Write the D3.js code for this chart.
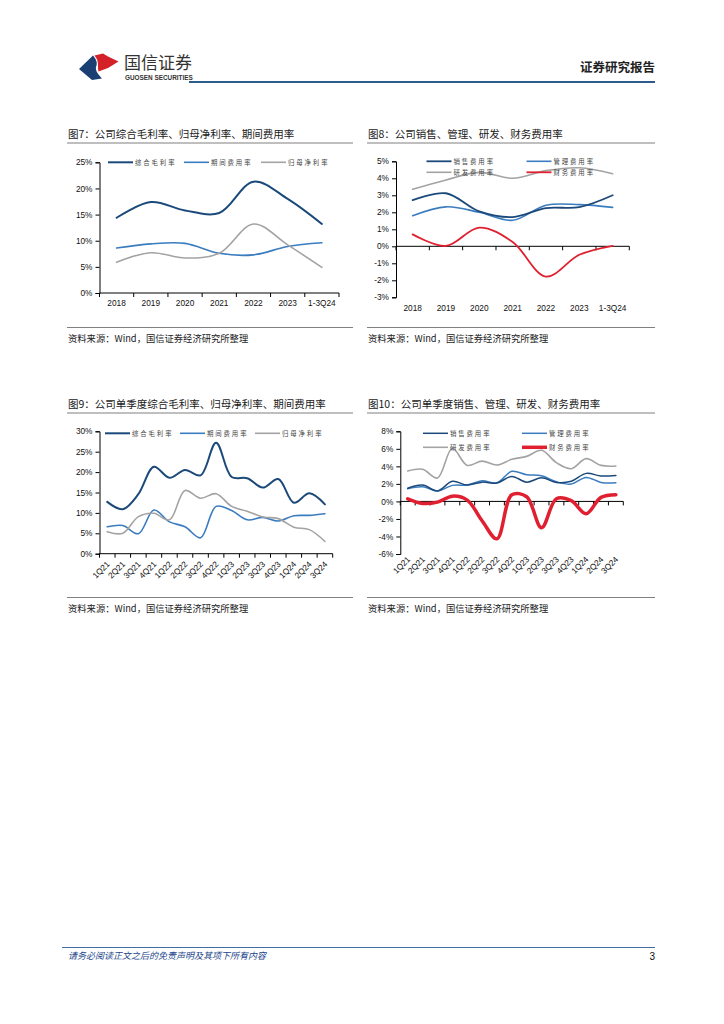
<!DOCTYPE html>
<html><head><meta charset="utf-8">
<script src="https://cdn.jsdelivr.net/npm/d3@7"></script>
<style>
body{margin:0;background:#fff;}
svg{display:block;font-family:"Liberation Sans",Arial,sans-serif;}
.cjk{font-family:"Noto Sans CJK SC","Noto Sans",sans-serif;}
</style></head>
<body>
<svg id="page" width="724" height="1024"></svg>
<script>
// ---------- DATA ----------
const years = ["2018","2019","2020","2021","2022","2023","1-3Q24"];
const grossMarginYear = [14.4, 17.4, 15.8, 15.3, 21.3, 18.0, 13.2];
const expenseRateYear = [8.6, 9.4, 9.5, 7.6, 7.3, 8.9, 9.6];
const netMarginYear   = [5.9, 7.7, 6.7, 7.6, 13.2, 9.2, 4.9];

const salesRateYear   = [2.72, 3.12, 2.05, 1.72, 2.25, 2.3, 3.0];
const adminRateYear   = [1.8, 2.32, 2.0, 1.53, 2.42, 2.45, 2.29];
const rdRateYear      = [3.35, 3.9, 4.35, 4.0, 4.45, 4.62, 4.27];
const finRateYear     = [0.7, 0.02, 1.1, 0.25, -1.78, -0.5, 0.03];

const quarters = ["1Q21","2Q21","3Q21","4Q21","1Q22","2Q22","3Q22","4Q22","1Q23","2Q23","3Q23","4Q23","1Q24","2Q24","3Q24"];
const grossMarginQ = [12.7, 10.9, 14.6, 21.3, 18.6, 20.5, 19.2, 27.2, 18.8, 18.5, 16.2, 18.3, 12.5, 14.8, 12.1];
const expenseRateQ = [6.6, 6.9, 4.9, 10.7, 7.8, 6.6, 3.9, 11.6, 10.6, 8.3, 8.9, 8.0, 9.3, 9.4, 9.8];
const netMarginQ   = [5.4, 5.0, 9.1, 9.9, 8.3, 15.5, 13.6, 14.7, 11.6, 10.4, 9.0, 8.6, 6.5, 5.9, 3.0];

const salesRateQ = [1.5, 1.87, 1.2, 2.3, 1.87, 2.2, 2.1, 2.85, 2.2, 2.7, 2.17, 2.3, 3.2, 2.9, 2.97];
const adminRateQ = [1.45, 1.67, 1.18, 1.83, 1.87, 2.36, 2.13, 3.43, 3.05, 2.93, 2.25, 1.98, 2.74, 2.17, 2.13];
const rdRateQ    = [3.47, 3.66, 2.67, 6.06, 4.11, 4.6, 4.15, 4.8, 5.14, 5.83, 4.42, 3.73, 4.88, 4.11, 4.04];
const finRateQ   = [0.3, -0.23, -0.08, 0.6, 0.15, -2.2, -4.27, 0.76, 0.53, -3.0, 0.3, 0.08, -1.4, 0.46, 0.76];

const ticks7 = [0,5,10,15,20,25];
const ticks8 = [-3,-2,-1,0,1,2,3,4,5];
const ticks9 = [0,5,10,15,20,25,30];
const ticks10 = [-6,-4,-2,0,2,4,6,8];

// ---------- STYLE ----------
const NAVY = "#1b4a7a", BLUE = "#3a7cc0", GRAY = "#a3a3a3", RED = "#e02030";
const svg = d3.select("#page");

// ---------- HEADER ----------
const logo = svg.append("g");
logo.append("path").attr("d","M79,69 L93,55.5 C96,59 98,63 96,67 C95,71 99,75 102,78.5 L92,80 Z").attr("fill","#1c3f73");
logo.append("path").attr("d","M94.5,55.5 L103,53.5 L108,56.5 L118.5,61.5 L108,68 L98.5,71.5 C97.5,68 98.5,64 97.5,61 C97,58.5 95.5,57 94.5,55.5 Z").attr("fill","#d42027");
svg.append("text").attr("class","cjk").attr("x",124).attr("y",69).attr("font-size",17).attr("fill","#333").text("国信证券");
svg.append("text").attr("x",125).attr("y",79.5).attr("font-size",6.4).attr("font-weight","bold").attr("fill","#333").text("GUOSEN SECURITIES");
svg.append("line").attr("x1",189).attr("x2",655).attr("y1",82).attr("y2",82).attr("stroke","#2d5b8c").attr("stroke-width",2);
svg.append("text").attr("class","cjk").attr("x",655).attr("y",72).attr("text-anchor","end").attr("font-size",12.5).attr("font-weight","bold").attr("fill","#222").text("证券研究报告");

// ---------- FOOTER ----------
svg.append("line").attr("x1",62).attr("x2",655).attr("y1",947.5).attr("y2",947.5).attr("stroke","#3e6ea3").attr("stroke-width",1);
svg.append("text").attr("class","cjk").attr("x",68).attr("y",959).attr("font-size",9).attr("font-style","italic").attr("fill","#24468a").attr("transform","skewX(0)").text("请务必阅读正文之后的免责声明及其项下所有内容");
svg.append("text").attr("x",655).attr("y",960).attr("text-anchor","end").attr("font-size",10).attr("fill","#111").text("3");

// ---------- CHART FUNCTION ----------
function drawChart(cfg){
  const g = svg.append("g");
  // title & frame
  g.append("text").attr("class","cjk").attr("x",cfg.fx+1).attr("y",cfg.titleY).attr("font-size",10.5).attr("fill","#1a1a1a").text(cfg.title);
  g.append("line").attr("x1",cfg.fx).attr("x2",cfg.fx2).attr("y1",cfg.titleY+5.5).attr("y2",cfg.titleY+5.5).attr("stroke","#808080").attr("stroke-width",1.2);
  g.append("line").attr("x1",cfg.fx).attr("x2",cfg.fx2).attr("y1",cfg.srcLineY).attr("y2",cfg.srcLineY).attr("stroke","#808080").attr("stroke-width",1.2);
  g.append("text").attr("class","cjk").attr("x",cfg.fx+1).attr("y",cfg.srcLineY+14).attr("font-size",9.3).attr("fill","#1a1a1a").text("资料来源：Wind，国信证券经济研究所整理");

  const x = d3.scaleBand().domain(cfg.categories).range([cfg.x0,cfg.x1]);
  const y = d3.scaleLinear().domain([cfg.ticks[0], cfg.ticks[cfg.ticks.length-1]]).range([cfg.yBottom,cfg.yTop]);

  // y axis
  const ya = g.append("g").attr("transform",`translate(${cfg.x0},0)`)
    .call(d3.axisLeft(y).tickValues(cfg.ticks).tickSize(4).tickPadding(3).tickFormat(d=>d+"%"));
  ya.select(".domain").attr("stroke","#000").attr("stroke-width",1);
  ya.selectAll(".tick line").attr("stroke","#000");
  ya.selectAll("text").attr("font-size",8.3).attr("fill","#111").attr("font-family","Liberation Sans, Arial, sans-serif");

  // x axis line at zero (or bottom)
  const axisY = y(Math.max(cfg.ticks[0],0));
  const xg = g.append("g");
  xg.append("line").attr("x1",cfg.x0).attr("x2",cfg.x1).attr("y1",axisY).attr("y2",axisY).attr("stroke","#000").attr("stroke-width",1);
  const bounds = cfg.categories.map(c=>x(c)).concat([cfg.x1]);
  xg.selectAll("line.tk").data(bounds).enter().append("line").attr("class","tk")
    .attr("x1",d=>d).attr("x2",d=>d).attr("y1",axisY).attr("y2",axisY+4).attr("stroke","#000");

  // x labels
  const lblBase = cfg.yBottom;
  const lbl = xg.selectAll("text.cat").data(cfg.categories).enter().append("text").attr("class","cat")
    .attr("font-size",8.3).attr("fill","#111").text(d=>d);
  if(cfg.rotate){
    lbl.attr("text-anchor","end")
      .attr("transform",d=>`translate(${x(d)+x.bandwidth()/2+3},${lblBase+cfg.rotOff}) rotate(-45)`);
  } else {
    lbl.attr("text-anchor","middle").attr("x",d=>x(d)+x.bandwidth()/2).attr("y",lblBase+cfg.labelOff);
  }

  // lines
  const line = d3.line().x((d,i)=>x(cfg.categories[i])+x.bandwidth()/2).y(d=>y(d)).curve(d3.curveCatmullRom.alpha(0.5));
  cfg.series.forEach(s=>{
    g.append("path").datum(s.values).attr("d",line).attr("fill","none")
      .attr("stroke",s.color).attr("stroke-width",s.width).attr("stroke-linejoin","round").attr("stroke-linecap","round");
  });
  // legend (drawn after lines, with white backing for text)
  cfg.series.forEach(s=>{
    const L = s.legend;
    g.append("line").attr("x1",L[0]).attr("x2",L[0]+25).attr("y1",L[1]).attr("y2",L[1])
      .attr("stroke",s.color).attr("stroke-width",s.width);
    g.append("text").attr("class","cjk").attr("x",L[0]+27).attr("y",L[1]+2.5)
      .attr("font-size",6.4).attr("letter-spacing",1.9).attr("fill","#444").text(s.name);
  });
}

drawChart({
  title:"图7：公司综合毛利率、归母净利率、期间费用率", fx:67, fx2:353, titleY:137.5, srcLineY:327.5,
  categories:years, ticks:ticks7, x0:99.5, x1:339, yTop:162.3, yBottom:293, labelOff:12.5,
  series:[
    {name:"综合毛利率", values:grossMarginYear, color:NAVY, width:2, legend:[108,162.3]},
    {name:"期间费用率", values:expenseRateYear, color:BLUE, width:1.6, legend:[184,162.3]},
    {name:"归母净利率", values:netMarginYear, color:GRAY, width:1.6, legend:[261,162.3]}
  ]
});
drawChart({
  title:"图8：公司销售、管理、研发、财务费用率", fx:367, fx2:655, titleY:137.5, srcLineY:327.5,
  categories:years, ticks:ticks8, x0:396, x1:629.3, yTop:161.3, yBottom:297.3, labelOff:14,
  series:[
    {name:"研发费用率", values:rdRateYear, color:GRAY, width:1.6, legend:[426.5,172.3]},
    {name:"管理费用率", values:adminRateYear, color:BLUE, width:1.6, legend:[526.5,161.3]},
    {name:"销售费用率", values:salesRateYear, color:NAVY, width:1.8, legend:[426.5,161.3]},
    {name:"财务费用率", values:finRateYear, color:RED, width:1.8, legend:[526.5,172.3]}
  ]
});
drawChart({
  title:"图9：公司单季度综合毛利率、归母净利率、期间费用率", fx:67, fx2:353, titleY:407.5, srcLineY:597.5,
  categories:quarters, ticks:ticks9, x0:99.5, x1:332.7, yTop:431.3, yBottom:553.7, rotate:true, rotOff:11,
  series:[
    {name:"综合毛利率", values:grossMarginQ, color:NAVY, width:2, legend:[105,433.3]},
    {name:"期间费用率", values:expenseRateQ, color:BLUE, width:1.6, legend:[180,433.3]},
    {name:"归母净利率", values:netMarginQ, color:GRAY, width:1.6, legend:[255,433.3]}
  ]
});
drawChart({
  title:"图10：公司单季度销售、管理、研发、财务费用率", fx:367, fx2:655, titleY:407.5, srcLineY:597.5,
  categories:quarters, ticks:ticks10, x0:400.3, x1:623.3, yTop:431.3, yBottom:554, rotate:true, rotOff:6,
  series:[
    {name:"研发费用率", values:rdRateQ, color:GRAY, width:1.6, legend:[423,447.3]},
    {name:"管理费用率", values:adminRateQ, color:BLUE, width:1.5, legend:[522,433.3]},
    {name:"销售费用率", values:salesRateQ, color:NAVY, width:1.5, legend:[423,433.3]},
    {name:"财务费用率", values:finRateQ, color:RED, width:3.5, legend:[522,447.3]}
  ]
});
</script>
</body></html>
